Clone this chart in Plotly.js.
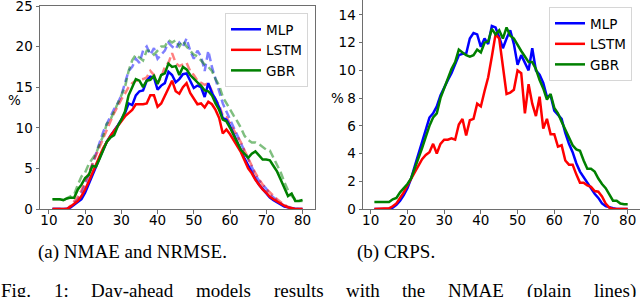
<!DOCTYPE html>
<html>
<head>
<meta charset="utf-8">
<script src="https://cdn.plot.ly/plotly-3.0.1.min.js"></script>
<style>html,body{margin:0;padding:0;background:#fff;overflow:hidden}#chart{width:640px;height:297px}</style>
</head>
<body>
<div id="chart"></div>
<script>
const hours = [11,12,13,14,15,16,17,18,19,20,21,22,23,24,25,26,27,28,29,30,31,32,33,34,35,36,37,38,39,40,41,42,43,44,45,46,47,48,49,50,51,52,53,54,55,56,57,58,59,60,61,62,63,64,65,66,67,68,69,70,71,72,73,74,75,76,77,78,79,80];
const modelNames = ['MLP','LSTM','GBR'];
const xTicks = [10,20,30,40,50,60,70,80];
const yTicksA = [0,5,10,15,20,25];
const yTicksB = [0,2,4,6,8,10,12,14];

// (a) NMAE (plain lines)
const mlpNMAE = [0,0,0,0,0, 0.2,0.5,0.8,1.2,2.0, 3.0,4.0,5.2,6.3,7.3, 8.3,9.0,9.6,10.3,11.0, 11.8,13.0,12.8,14.0,14.5, 14.6,15.8,16.3,16.2,14.7, 15.2,15.5,16.9,16.5,15.6, 16.0,16.6,16.7,15.7,14.9, 15.2,15.0,13.8,15.5,14.3, 13.5,12.5,11.2,11.0,10.2, 9.2,8.3,7.2,6.2,5.3, 4.5,3.7,3.0,2.5,2.0, 1.4,1.1,0.8,0.5,0.3, 0.2,0.1,0,0,0];
const lstmNMAE = [0,0,0,0,0, 0.3,0.7,1.0,1.6,2.4, 3.4,4.5,5.5,6.5,7.5, 8.3,9.0,9.6,10.2,10.8, 11.4,11.8,12.2,12.9,12.9, 12.9,13.0,14.0,14.0,12.6, 13.0,14.0,14.8,15.8,14.5, 14.2,15.0,15.5,14.3,13.6, 12.9,13.0,12.5,13.2,12.9, 12.2,11.2,9.3,9.8,9.2, 8.5,7.8,7.0,6.0,5.0, 4.4,3.6,3.0,2.4,2.0, 1.5,1.2,0.9,0.6,0.4, 0.2,0.1,0,0,0];
const gbrNMAE = [1.2,1.2,1.2,1.1,1.3, 1.4,1.4,2.4,3.0,3.8, 4.2,5.3,5.2,6.2,7.2, 8.3,8.8,9.1,10.2,11.0, 12.0,14.0,15.0,16.0,15.8, 15.0,15.8,15.9,16.4,15.4, 16.5,16.7,17.9,17.5,17.6, 16.5,17.5,17.2,16.5,16.0, 15.6,15.2,14.6,14.5,14.0, 13.0,12.2,11.0,10.8,10.0, 9.0,8.2,7.3,6.8,6.3, 6.8,7.1,6.6,6.1,6.1, 6.0,5.3,4.6,3.6,2.5, 1.6,1.9,1.0,1.0,1.1];
// (a) NRMSE (dashed lines)
const mlpNRMSE = [0,0,0,0,0, 0.3,0.7,1.2,2.0,3.0, 4.2,5.5,6.8,8.0,9.5, 10.5,11.5,12.3,13.0,14.0, 15.5,17.0,17.5,18.5,18.0, 19.5,20.0,19.0,19.8,18.5, 19.0,19.5,20.5,20.0,19.7, 20.5,20.0,21.0,19.5,18.5, 19.5,18.8,17.0,19.5,17.5, 16.0,14.5,13.0,12.0,11.0, 10.0,9.0,8.0,7.0,6.0, 5.0,4.2,3.5,3.0,2.5, 1.8,1.4,1.0,0.7,0.4, 0.3,0.1,0,0,0];
const lstmNRMSE = [0,0,0,0,0, 0.4,0.9,1.5,2.3,3.3, 4.4,5.5,6.6,7.7,8.8, 9.8,10.8,11.8,12.7,13.5, 14.2,15.0,15.5,15.8,15.9, 16.0,16.2,17.0,16.5,15.5, 16.2,17.5,18.0,19.2,18.0, 17.6,17.8,18.0,17.0,16.5, 15.8,15.5,15.3,15.5,14.5, 13.5,12.8,11.5,11.3,10.5, 9.8,9.0,8.2,7.2,6.2, 5.2,4.4,3.7,3.0,2.5, 2.0,1.6,1.2,0.8,0.5, 0.3,0.1,0,0,0];
const gbrNRMSE = [1.2,1.2,1.2,1.1,1.3, 1.5,1.8,3.0,4.0,4.5, 5.5,6.2,6.8,8.0,9.0, 10.5,11.0,12.0,13.0,13.8, 15.0,17.0,18.3,19.0,18.7, 18.3,19.5,19.5,19.0,19.5, 20.0,20.0,20.8,20.5,20.8, 20.0,20.7,20.0,19.5,19.0, 18.8,18.3,17.8,17.5,17.0, 16.0,15.2,13.8,13.0,12.3, 11.5,10.8,10.0,9.0,8.5, 8.2,8.2,8.0,7.6,7.3, 7.2,6.3,5.5,4.5,3.3, 2.3,1.6,1.2,1.0,1.0];
// (b) CRPS
const mlpCRPS = [0,0,0,0,0, 0.1,0.3,0.6,1.0,1.5, 2.2,3.1,4.0,4.9,5.8, 6.6,6.9,7.4,8.2,8.8, 9.3,9.8,10.4,11.1,11.2, 11.2,12.3,12.7,12.6,11.7, 12.3,11.9,13.2,13.1,12.4, 11.6,12.3,12.9,11.9,10.4, 11.1,10.6,10.0,11.6,10.0, 9.7,9.1,8.1,8.2,7.1, 6.8,6.5,5.5,4.7,4.1, 3.3,2.7,2.3,1.85,1.5, 1.1,0.8,0.4,0.2,0.1, 0.05,0,0,0,0];
const lstmCRPS = [0,0,0,0,0.05, 0.2,0.4,0.8,1.2,1.7, 2.2,2.7,3.2,3.6,3.9, 4.1,4.7,4.0,4.7,5.0, 5.0,5.1,5.0,6.1,6.5, 5.3,6.4,6.5,7.6,7.4, 8.5,9.5,11.0,12.6,12.3, 10.3,8.3,8.4,8.6,10.0, 9.8,6.9,9.0,7.6,6.7, 8.1,5.8,6.5,5.4,5.4, 4.5,4.6,3.5,3.2,3.2, 2.5,1.9,1.9,1.7,1.6, 1.3,1.25,0.9,0.4,0.1, 0,0,0,0,0];
const gbrCRPS = [0.5,0.5,0.5,0.5,0.5, 0.7,0.8,1.2,1.5,1.8, 2.2,2.9,3.6,4.4,5.2, 6.0,6.6,6.9,8.0,8.7, 9.3,10.1,10.6,11.5,11.3, 11.1,11.0,11.1,11.5,11.3, 12.0,12.1,13.0,12.6,12.9, 12.3,13.1,12.5,12.3,11.8, 11.4,11.0,10.6,10.6,10.1, 9.3,8.7,7.9,8.3,7.3, 6.9,6.3,5.7,5.2,4.6, 4.3,4.2,3.5,2.9,2.9, 2.7,2.2,1.8,1.5,1.0, 0.6,0.6,0.4,0.35,0.35];

const colors = ['#0000ff','#ff0000','#008000'];
const nmae = [mlpNMAE, lstmNMAE, gbrNMAE];
const nrmse = [mlpNRMSE, lstmNRMSE, gbrNRMSE];
const crps = [mlpCRPS, lstmCRPS, gbrCRPS];

const traces = [];
nrmse.forEach((ys, i) => traces.push({x: hours, y: ys, type: 'scatter', mode: 'lines', xaxis: 'x', yaxis: 'y',
  line: {color: colors[i], width: 2.5, dash: '8px,4px'}, opacity: 0.5, showlegend: false, hoverinfo: 'skip'}));
nmae.forEach((ys, i) => traces.push({x: hours, y: ys, type: 'scatter', mode: 'lines', xaxis: 'x', yaxis: 'y',
  name: modelNames[i], legend: 'legend', line: {color: colors[i], width: 2.5}}));
crps.forEach((ys, i) => traces.push({x: hours, y: ys, type: 'scatter', mode: 'lines', xaxis: 'x2', yaxis: 'y2',
  name: modelNames[i], legend: 'legend2', line: {color: colors[i], width: 2.5}}));

const W = 640, H = 297;
const frame = '#6e6e6e';
const tickFont = {family: 'DejaVu Sans', size: 13.5, color: '#000'};
function axisBase() {
  return {showline: true, linecolor: frame, linewidth: 1, ticks: 'outside', ticklen: 3.5, tickwidth: 1,
    tickcolor: frame, showgrid: false, zeroline: false, tickfont: tickFont, fixedrange: true, ticklabeloverflow: 'allow'};
}
const legendBase = {bgcolor: '#ffffff', bordercolor: '#d6d6d6', borderwidth: 1,
  font: {family: 'DejaVu Sans', size: 13.5, color: '#000'}, xanchor: 'right', yanchor: 'top', traceorder: 'normal'};

const serif = {family: 'Liberation Serif', size: 19, color: '#000'};
const figWords = ['Fig.','1:','Day-ahead','models','results','with','the','NMAE','(plain','lines)'];
const figWordX = [0,52.7,90.1,195.0,272.7,344.9,401.3,447.1,525.6,592.5];

const annotations = [
  {text: '%', x: 14/W, y: 1-100/H, xref: 'paper', yref: 'paper', xanchor: 'center', yanchor: 'middle', showarrow: false, font: tickFont},
  {text: '%', x: 337/W, y: 1-98/H, xref: 'paper', yref: 'paper', xanchor: 'center', yanchor: 'middle', showarrow: false, font: tickFont},
  {text: '(a) NMAE and NRMSE.', x: 132/W, y: 1-252/H, xref: 'paper', yref: 'paper', xanchor: 'center', yanchor: 'middle', showarrow: false, font: serif},
  {text: '(b) CRPS.', x: 396/W, y: 1-252/H, xref: 'paper', yref: 'paper', xanchor: 'center', yanchor: 'middle', showarrow: false, font: serif}
];
figWords.forEach((w, i) => annotations.push({text: w, x: figWordX[i]/W, y: 1-290.5/H, xref: 'paper', yref: 'paper',
  xanchor: 'left', yanchor: 'middle', showarrow: false, font: serif, borderpad: 0}));

const layout = {
  width: W, height: H, autosize: false,
  margin: {l: 0, r: 0, t: 0, b: 0},
  paper_bgcolor: '#fff', plot_bgcolor: '#fff',
  xaxis: Object.assign(axisBase(), {domain: [40/W, 315/W], range: [7.55, 83.45], tickvals: xTicks, anchor: 'y', mirror: true, ticklabelstandoff: -5}),
  yaxis: Object.assign(axisBase(), {domain: [1-209/H, 1-6/H], range: [0, 25.001], tickvals: yTicksA, anchor: 'x', mirror: true}),
  xaxis2: Object.assign(axisBase(), {domain: [363/W, 1], range: [7.9, 83.35], tickvals: xTicks, anchor: 'y2', mirror: true, ticklabelstandoff: -5}),
  yaxis2: Object.assign(axisBase(), {domain: [1-209/H, 1], range: [0, 15.08], tickvals: yTicksB, anchor: 'x2', mirror: false}),
  legend: Object.assign({}, legendBase, {x: 308/W, y: 1-13/H}),
  legend2: Object.assign({}, legendBase, {x: 632/W, y: 1-7/H}),
  annotations: annotations
};

Plotly.newPlot('chart', traces, layout, {displayModeBar: false, staticPlot: true});
</script>
</body>
</html>
